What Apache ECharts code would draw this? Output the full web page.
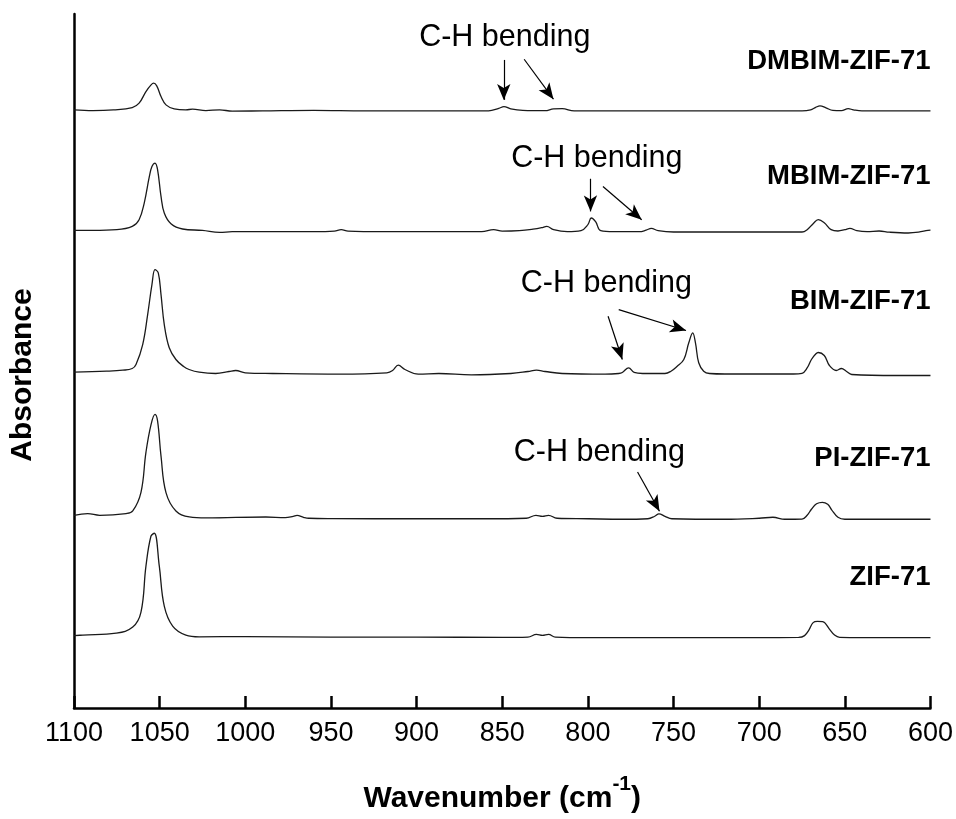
<!DOCTYPE html>
<html><head><meta charset="utf-8">
<script src="https://cdn.jsdelivr.net/npm/echarts@6/dist/echarts.min.js"></script>
<style>html,body{margin:0;padding:0;background:#fff}#c{width:956px;height:819px}</style>
</head><body><div id="c"></div>
<script>
// ---------- DATA ----------
const seriesNames = ['DMBIM-ZIF-71', 'MBIM-ZIF-71', 'BIM-ZIF-71', 'PI-ZIF-71', 'ZIF-71'];
// vertical offset (stacking) of each spectrum, absorbance units (a.u.)
const offsets = [5.99, 4.78, 3.37, 1.92, 0.72];
// level (a.u.) at which each sample name is written, at the right end
const nameLevels = [6.475, 5.32, 4.07, 2.50, 1.31];
const xTickValues = [1100, 1050, 1000, 950, 900, 850, 800, 750, 700, 650, 600];

// spectra: [wavenumber (cm-1), absorbance above own baseline (a.u.)]
const dmbim = [
  [1100, 0.0], [1089, -0.007], [1077, 0.0], [1066, 0.023], [1062, 0.067], [1058, 0.183], [1055, 0.25],
  [1053.5, 0.267], [1051.7, 0.24], [1049.2, 0.133], [1046.3, 0.05], [1041.5, 0.01], [1034.7, 0.0],
  [1030.8, 0.007], [1023, -0.007], [1015, 0.0], [1007.6, -0.013], [990, -0.01], [960, -0.005], [930, -0.01],
  [900, -0.01], [870, -0.01], [858, -0.01], [852, 0.015], [849, 0.033], [845, 0.01], [838, -0.005],
  [825, -0.008], [820, 0.01], [815, 0.012], [808, -0.01], [780, -0.01], [740, -0.01], [700, -0.01],
  [675, -0.01], [670, 0.0], [667, 0.025], [664.5, 0.04], [661, 0.02], [657, -0.005], [652, -0.008],
  [648, 0.012], [645, 0.0], [640, -0.01], [620, -0.01], [600, -0.01]
];
const mbim = [
  [1100, 0.003], [1089, 0.003], [1075, 0.01], [1066, 0.043], [1062, 0.11], [1059, 0.277], [1056, 0.543],
  [1054.5, 0.643], [1052.7, 0.677], [1051.2, 0.61], [1049.2, 0.343], [1047.3, 0.177], [1043.4, 0.07],
  [1036.6, 0.017], [1025, 0.003], [1015, -0.017], [1007.6, -0.01], [990, -0.01], [960, -0.01], [948, -0.005],
  [944, 0.01], [940, -0.005], [920, -0.01], [880, -0.01], [862, -0.01], [855, 0.01], [850, -0.005],
  [840, 0.0], [832, 0.015], [827, 0.03], [824, 0.043], [820, 0.01], [812, -0.01], [804, 0.0], [800, 0.06],
  [798, 0.127], [795.5, 0.09], [792.5, 0.0], [785, -0.01], [770, -0.01], [766, 0.005], [763, 0.023],
  [759, 0.0], [750, -0.013], [720, -0.013], [690, -0.013], [675, -0.013], [672, 0.01], [668.5, 0.07],
  [665.5, 0.11], [662, 0.08], [658, 0.01], [654, -0.003], [650, 0.01], [647, 0.023], [643, 0.0],
  [637, -0.01], [630, -0.003], [624, -0.015], [613, -0.023], [607, -0.015], [601.5, 0.003], [600, 0.005]
];
const bim = [
  [1100, -0.007], [1081, 0.003], [1071.5, 0.013], [1066, 0.03], [1063.8, 0.07], [1059.9, 0.27], [1057, 0.57],
  [1054.5, 0.87], [1052.7, 1.02], [1050.8, 0.987], [1049.2, 0.77], [1047.3, 0.47], [1044.4, 0.237],
  [1040.5, 0.12], [1036, 0.05], [1032.8, 0.02], [1026.9, -0.007], [1017.3, -0.02], [1009.5, 0.0],
  [1005.6, 0.01], [1000, -0.013], [984, -0.02], [945, -0.027], [917.4, -0.013], [914, 0.01], [910.7, 0.063],
  [906.8, 0.02], [899, -0.027], [887, -0.02], [868, -0.033], [845, -0.02], [835, 0.0], [830, 0.013],
  [825, 0.0], [815, -0.02], [790, -0.027], [782, -0.02], [779.9, -0.01], [776.2, 0.037], [773, -0.01],
  [768, -0.02], [755, -0.02], [751.7, 0.0], [748, 0.05], [744, 0.12], [741.1, 0.287], [738.8, 0.387],
  [737.2, 0.287], [735.3, 0.087], [732.4, 0.003], [729, -0.02], [720, -0.025], [700, -0.025], [680, -0.025],
  [675, -0.018], [672, 0.035], [669.5, 0.12], [667, 0.175], [665.5, 0.19], [662, 0.16], [659, 0.06],
  [655, 0.01], [652, 0.03], [649, 0.0], [646, -0.03], [620, -0.04], [600, -0.04]
];
const pi = [
  [1100, 0.01], [1092, 0.027], [1085, 0.01], [1069.6, 0.027], [1065.7, 0.053], [1060.9, 0.24], [1058, 0.64],
  [1055, 0.92], [1052.7, 1.02], [1051.2, 0.953], [1049.2, 0.603], [1046.3, 0.237], [1040.5, 0.053],
  [1032.7, -0.007], [1023, -0.017], [988, -0.007], [976.7, -0.013], [972, 0.0], [969.8, 0.01], [966, -0.01],
  [963, -0.02], [949, -0.023], [900, -0.025], [860, -0.025], [836, -0.02], [830.3, 0.01], [826.5, 0.0],
  [823, 0.01], [818, -0.02], [800, -0.025], [780, -0.03], [765, -0.025], [761, 0.0], [758.5, 0.025],
  [755, 0.0], [751, -0.025], [720, -0.03], [700, -0.02], [692, -0.01], [685, -0.03], [675, -0.028],
  [672, 0.01], [669.5, 0.07], [666.5, 0.125], [663.1, 0.14], [660, 0.12], [657.7, 0.065], [654, -0.01],
  [650, -0.03], [630, -0.03], [600, -0.03]
];
const zif = [
  [1100, 0.005], [1094.8, 0.01], [1075.4, 0.03], [1065.7, 0.09], [1060.9, 0.24], [1058, 0.7], [1055.1, 1.0],
  [1053.1, 1.03], [1050.2, 0.7], [1047.3, 0.3], [1042.4, 0.1], [1034.7, 0.01], [1026.9, -0.007],
  [1000, -0.005], [950, -0.01], [900, -0.01], [850, -0.013], [835, -0.01], [830, 0.017], [826.5, 0.007],
  [823, 0.017], [819, -0.01], [800, -0.015], [700, -0.015], [677, -0.013], [673.5, 0.005], [671, 0.06],
  [668.5, 0.135], [666, 0.147], [663, 0.145], [661.5, 0.13], [659, 0.07], [656, 0.01], [653, -0.013],
  [640, -0.015], [600, -0.015]
];
const spectra = [dmbim, mbim, bim, pi, zif];

// "C-H bending" annotations: [series index, text centre wavenumber, text centre level]
const chLabels = [[0, 848.5, 6.715], [1, 794.8, 5.50], [2, 789.2, 4.25], [3, 793.3, 2.557]];
// arrows: [series index, from wavenumber, from level, to wavenumber, to level]
const chArrows = [
  [0, 849.1, 6.49, 849.1, 6.09],
  [0, 837.2, 6.497, 820.1, 6.097],
  [1, 798.6, 5.30, 798.4, 4.973],
  [1, 791.2, 5.223, 768.6, 4.89],
  [2, 788.2, 3.923, 779.9, 3.49],
  [2, 782.0, 3.99, 742.7, 3.78],
  [3, 771.0, 2.363, 758.2, 1.97]
];

// ---------- CHART ----------
const FONT = 'Arial, "Liberation Sans", sans-serif';
const chart = echarts.init(document.getElementById('c'), null, {renderer: 'canvas'});

const series = spectra.map((s, i) => {
  const mp = [{
    coord: [600, nameLevels[i]], symbol: 'circle', symbolSize: 0,
    label: {show: true, formatter: seriesNames[i], position: [0, 0], align: 'right', verticalAlign: 'middle',
      fontFamily: FONT, fontSize: 27.5, fontWeight: 'bold', color: '#000'}
  }];
  chLabels.filter(l => l[0] === i).forEach(l => mp.push({
    coord: [l[1], l[2]], symbol: 'circle', symbolSize: 0,
    label: {show: true, formatter: 'C-H bending', position: [0, 0], align: 'center', verticalAlign: 'middle',
      fontFamily: FONT, fontSize: 30.5, color: '#000'}
  }));
  const ml = chArrows.filter(a => a[0] === i).map(a => [
    {coord: [a[1], a[2]], symbol: 'none'},
    {coord: [a[3], a[4]], symbol: 'arrow', symbolSize: [10, 16]}
  ]);
  const pts = s.map(p => [p[0], p[1] + offsets[i]]).sort((a, b) => a[0] - b[0]);
  return {
    name: seriesNames[i], type: 'line', showSymbol: false, symbol: 'none',
    smooth: 0.4,
    lineStyle: {color: '#1a1a1a', width: 1.3},
    data: pts,
    markPoint: {silent: true, animation: false, data: mp},
    markLine: {silent: true, animation: false, symbol: ['none', 'arrow'],
      lineStyle: {color: '#000', width: 1.2, type: 'solid'}, label: {show: false},
      emphasis: {disabled: true}, data: ml},
    animation: false
  };
});

chart.setOption({
  backgroundColor: '#fff',
  animation: false,
  grid: {left: 71, right: 25, top: 14, bottom: 110, containLabel: false},
  xAxis: {
    type: 'value', inverse: true, min: 600, max: 1100, interval: 50,
    name: '{a|Wavenumber (cm}{s|-1}{a|)}', nameLocation: 'middle', nameGap: 66,
    nameTextStyle: {rich: {
      a: {fontFamily: FONT, fontSize: 30, fontWeight: 'bold', color: '#000', lineHeight: 40, verticalAlign: 'bottom'},
      s: {fontFamily: FONT, fontSize: 21, fontWeight: 'bold', color: '#000', lineHeight: 40, verticalAlign: 'top'}
    }},
    axisLine: {show: true, onZero: false, lineStyle: {color: '#000', width: 2.5}},
    axisTick: {show: true, inside: true, length: 12, lineStyle: {color: '#000', width: 2.5}},
    axisLabel: {fontFamily: FONT, fontSize: 27, color: '#000', margin: 12,
      formatter: v => String(v), customValues: xTickValues},
    splitLine: {show: false}
  },
  yAxis: {
    type: 'value', min: 0, max: 6.95,
    name: 'Absorbance', nameLocation: 'middle', nameGap: 36, nameRotate: 90,
    nameTextStyle: {fontFamily: FONT, fontSize: 30, fontWeight: 'bold', color: '#000', padding: [0, 28, 0, 0]},
    axisLine: {show: true, lineStyle: {color: '#000', width: 2.5}},
    axisTick: {show: false}, axisLabel: {show: false}, splitLine: {show: false}
  },
  series: series
});
</script></body></html>
